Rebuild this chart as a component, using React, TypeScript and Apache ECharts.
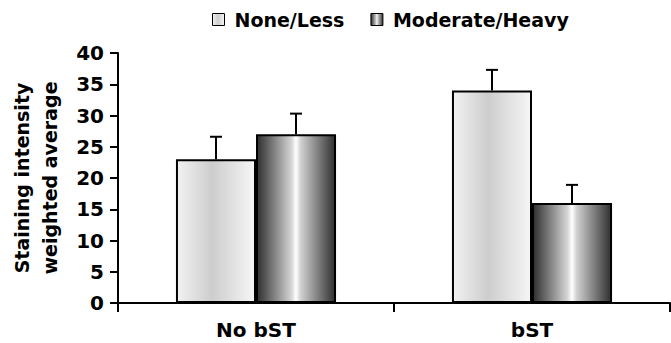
import React, { useEffect, useRef } from "react";
import * as echarts from "echarts";

const categories = ["No bST", "bST"];
const seriesNames = ["None/Less", "Moderate/Heavy"];
const noneLess = [23.0, 34.0];
const noneLessErr = [3.6, 3.3];
const modHeavy = [27.0, 16.0];
const modHeavyErr = [3.3, 2.9];
const yTicks = { min: 0, max: 40, interval: 5 };

const BAR_PCT = 0.29;
const FONT = "DejaVu Sans";

const lightGrad = new echarts.graphic.LinearGradient(0, 0, 1, 0, [
  { offset: 0, color: "#f2f2f2" },
  { offset: 0.45, color: "#cdcdcd" },
  { offset: 1, color: "#f6f6f6" },
]);
const darkGrad = new echarts.graphic.LinearGradient(0, 0, 1, 0, [
  { offset: 0, color: "#2e2e2e" },
  { offset: 0.44, color: "#d4d4d4" },
  { offset: 0.5, color: "#ffffff" },
  { offset: 0.56, color: "#d0d0d0" },
  { offset: 1, color: "#303030" },
]);

function errorSeries(name: string, vals: number[], errs: number[], side: number) {
  return {
    type: "custom",
    name,
    data: vals.map((v, i) => [i, v, errs[i]]),
    z: 5,
    renderItem: (params: any, api: any) => {
      const c = api.value(0);
      const v = api.value(1);
      const e = api.value(2);
      const band = api.size([1, 0])[0];
      const off = (side * band * BAR_PCT) / 2;
      const p0 = api.coord([c, v]);
      const p1 = api.coord([c, v + e]);
      const x = p0[0] + off;
      const cap = 6;
      const style = { stroke: "#000", lineWidth: 2, fill: "none" };
      return {
        type: "group",
        children: [
          { type: "line", shape: { x1: x, y1: p0[1], x2: x, y2: p1[1] }, style },
          { type: "line", shape: { x1: x - cap, y1: p1[1], x2: x + cap, y2: p1[1] }, style },
        ],
      };
    },
  };
}

export default function App() {
  const ref = useRef<HTMLDivElement>(null);
  useEffect(() => {
    if (!ref.current) return;
    const chart = echarts.init(ref.current, null, { renderer: "svg" });
    chart.setOption({
      animation: false,
      backgroundColor: "#ffffff",
      textStyle: { fontFamily: FONT },
      legend: {
        data: seriesNames,
        left: 207,
        top: 5,
        itemWidth: 12,
        itemHeight: 12,
        itemGap: 26,
        icon: "rect",
        itemStyle: { borderColor: "#000", borderWidth: 1 },
        textStyle: {
          fontFamily: FONT,
          fontWeight: "bold",
          fontSize: 19,
          color: "#000",
          padding: [0, 0, 0, 5],
        },
      },
      grid: { left: 117, right: 1, top: 53, bottom: 40 },
      xAxis: {
        type: "category",
        data: categories,
        axisLine: { lineStyle: { color: "#000", width: 2 } },
        axisTick: { show: true, length: 9, lineStyle: { color: "#000", width: 2 } },
        axisLabel: {
          fontFamily: FONT,
          fontWeight: "bold",
          fontSize: 20,
          color: "#000",
          margin: 17,
        },
      },
      yAxis: {
        type: "value",
        min: yTicks.min,
        max: yTicks.max,
        interval: yTicks.interval,
        name: "Staining intensity\nweighted average",
        nameLocation: "middle",
        nameGap: 54,
        nameTextStyle: {
          fontFamily: FONT,
          fontWeight: "bold",
          fontSize: 19,
          color: "#000",
          lineHeight: 28,
        },
        splitLine: { show: false },
        axisLine: { show: true, lineStyle: { color: "#000", width: 2 } },
        axisTick: { show: true, length: 8, lineStyle: { color: "#000", width: 2 } },
        axisLabel: {
          fontFamily: FONT,
          fontWeight: "bold",
          fontSize: 20,
          color: "#000",
          margin: 14,
        },
      },
      series: [
        {
          type: "bar",
          name: seriesNames[0],
          data: noneLess,
          barWidth: BAR_PCT * 100 + "%",
          barGap: "0%",
          itemStyle: { color: lightGrad, borderColor: "#000", borderWidth: 2 },
        },
        {
          type: "bar",
          name: seriesNames[1],
          data: modHeavy,
          barWidth: BAR_PCT * 100 + "%",
          barGap: "0%",
          itemStyle: { color: darkGrad, borderColor: "#000", borderWidth: 2 },
        },
        errorSeries("err1", noneLess, noneLessErr, -1),
        errorSeries("err2", modHeavy, modHeavyErr, 1),
      ],
    });
    return () => chart.dispose();
  }, []);
  return (
    <div
      ref={ref}
      style={{ position: "fixed", left: 0, top: 0, width: 671, height: 343 }}
    />
  );
}
